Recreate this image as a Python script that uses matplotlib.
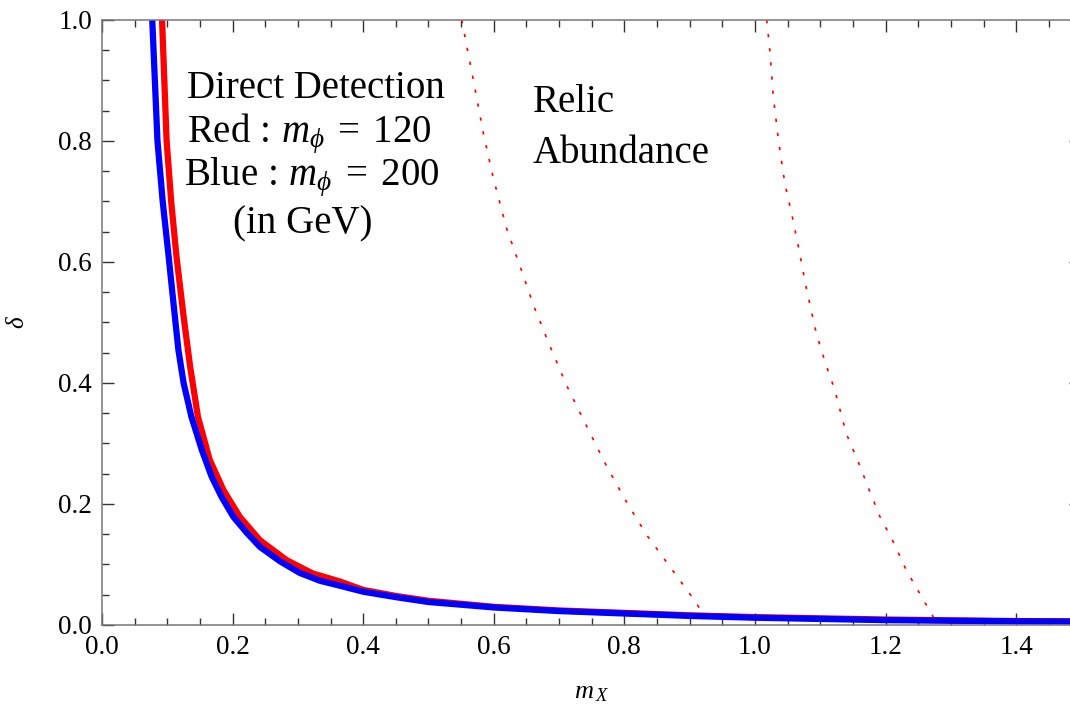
import matplotlib
matplotlib.use("Agg")
import matplotlib.pyplot as plt
from matplotlib.ticker import MultipleLocator

plt.rcParams['font.family'] = ['Liberation Serif', 'DejaVu Serif']
plt.rcParams['mathtext.fontset'] = 'custom'
plt.rcParams['mathtext.rm'] = 'Liberation Serif'
plt.rcParams['mathtext.it'] = 'Liberation Serif:italic'

# direct detection, m_phi = 200 GeV (blue)
x_blue = [0.077, 0.085, 0.093, 0.102, 0.109, 0.117, 0.125, 0.137, 0.153, 0.168,
          0.183, 0.201, 0.222, 0.242, 0.273, 0.303, 0.334, 0.364, 0.400, 0.450,
          0.500, 0.600, 0.700, 0.800, 0.900, 1.000, 1.200, 1.400, 1.500]
d_blue = [1.00, 0.80, 0.70, 0.61, 0.537, 0.455, 0.400, 0.344, 0.289, 0.245,
          0.212, 0.179, 0.152, 0.129, 0.105, 0.086, 0.073, 0.065, 0.055, 0.046,
          0.038, 0.029, 0.023, 0.019, 0.015, 0.012, 0.008, 0.006, 0.0055]

# direct detection, m_phi = 120 GeV (red)
x_red = [0.092, 0.099, 0.106, 0.114, 0.125, 0.135, 0.147, 0.165, 0.186, 0.211,
         0.242, 0.283, 0.323, 0.364, 0.400, 0.450, 0.500, 0.600, 0.700, 0.800,
         0.900, 1.000, 1.200, 1.400, 1.500]
d_red = [1.00, 0.80, 0.70, 0.61, 0.510, 0.427, 0.344, 0.273, 0.223, 0.179,
         0.140, 0.107, 0.085, 0.072, 0.058, 0.048, 0.040, 0.030, 0.024, 0.020,
         0.016, 0.013, 0.009, 0.0065, 0.006]

# relic abundance curves (dotted)
x_rel1 = [0.551, 0.569, 0.584, 0.599, 0.620, 0.640, 0.661, 0.686, 0.712, 0.742,
          0.773, 0.804, 0.834, 0.870, 0.908, 0.921]
d_rel1 = [1.00, 0.899, 0.813, 0.740, 0.654, 0.594, 0.528, 0.461, 0.395, 0.329,
          0.262, 0.202, 0.149, 0.096, 0.040, 0.017]
x_rel2 = [1.018, 1.023, 1.028, 1.036, 1.046, 1.056, 1.066, 1.079, 1.094, 1.107,
          1.122, 1.140, 1.158, 1.174, 1.191, 1.212, 1.232, 1.255, 1.278]
d_rel2 = [1.00, 0.947, 0.874, 0.801, 0.728, 0.681, 0.628, 0.555, 0.482, 0.436,
          0.389, 0.316, 0.270, 0.226, 0.180, 0.137, 0.090, 0.047, 0.004]

fig = plt.figure(figsize=(10.7, 7.05), dpi=100)
ax = fig.add_axes([0.0953, 0.1135, 0.9154, 0.8582])

ax.plot(x_rel1, d_rel1, color='red', lw=1.2, linestyle=(0, (2, 6.5)))
ax.plot(x_rel2, d_rel2, color='red', lw=1.2, linestyle=(0, (2, 6.5)))
ax.plot(x_red, d_red, color='#ff0000', lw=4.5, solid_capstyle='butt')
ax.plot(x_blue, d_blue, color='#0000ff', lw=4.5, solid_capstyle='butt')

ax.set_xlim(0, 1.5)
ax.set_ylim(0, 1.0)
ax.xaxis.set_major_locator(MultipleLocator(0.2))
ax.xaxis.set_minor_locator(MultipleLocator(0.05))
ax.yaxis.set_major_locator(MultipleLocator(0.2))
ax.yaxis.set_minor_locator(MultipleLocator(0.05))
ax.xaxis.set_major_formatter(lambda v, p: '%.1f' % v)
ax.yaxis.set_major_formatter(lambda v, p: '%.1f' % v)
ax.tick_params(which='both', direction='in', top=True, right=True,
               color='#333333', width=1.0, labelsize=19.5)
ax.tick_params(which='major', length=8.6, pad=7)
ax.tick_params(which='minor', length=5)
for s in ax.spines.values():
    s.set_color('#777777')
    s.set_linewidth(1.1)

ax.set_xlabel(r'$m_{\,X}$', fontsize=19)
ax.set_ylabel(r'$\delta$', fontsize=18)
ax.xaxis.set_label_coords(0.5, -0.095)
ax.yaxis.set_label_coords(-0.074, 0.5)

fs = 28
ax.text(0.328, 0.871, 'Direct Detection', fontsize=fs, ha='center', va='baseline')
ax.text(0.317, 0.798, r'Red$\,:\,m_{\phi}\;=\;120$', fontsize=fs, ha='center', va='baseline')
ax.text(0.322, 0.727, r'Blue$\,:\,m_{\phi}\;=\;200$', fontsize=fs, ha='center', va='baseline')
ax.text(0.308, 0.648, '(in GeV)', fontsize=fs, ha='center', va='baseline')
ax.text(0.660, 0.848, 'Relic', fontsize=fs, ha='left', va='baseline')
ax.text(0.660, 0.764, 'Abundance', fontsize=fs, ha='left', va='baseline')

fig.savefig('out.png', dpi=100)
